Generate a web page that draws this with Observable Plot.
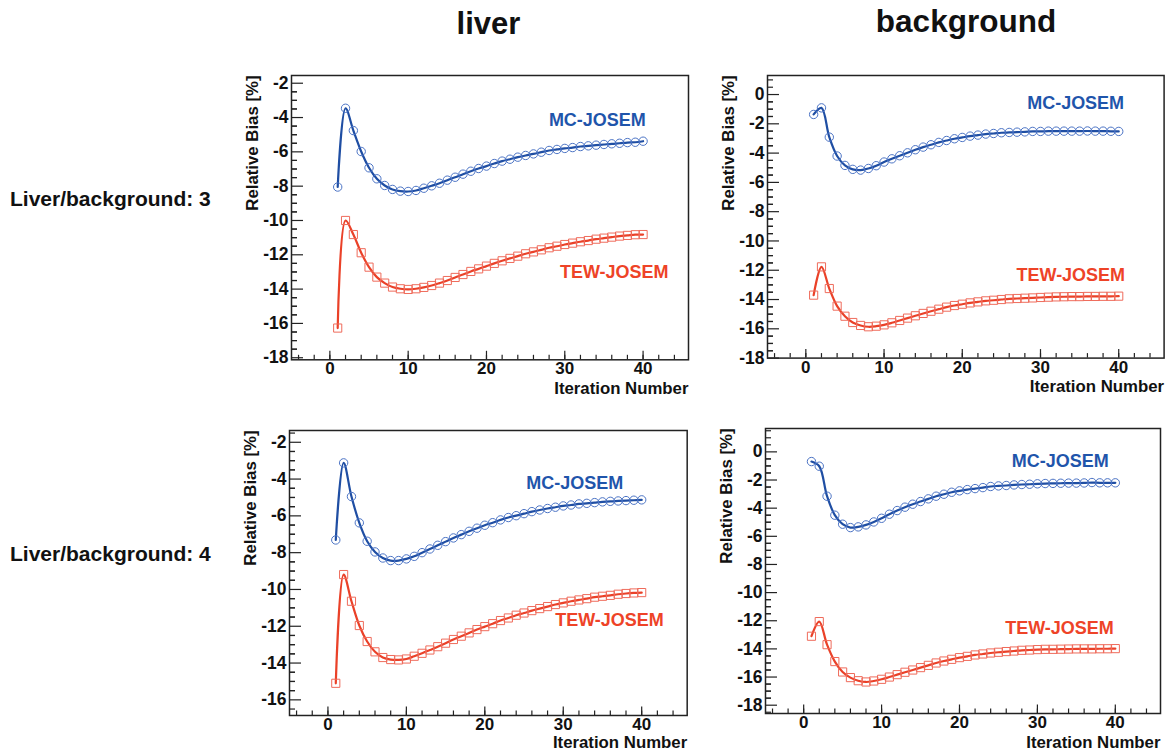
<!DOCTYPE html>
<html><head><meta charset="utf-8">
<script src="https://cdn.jsdelivr.net/npm/d3@7"></script>
<script src="https://cdn.jsdelivr.net/npm/@observablehq/plot@0.6"></script>
<style>
body{margin:0;background:#fff;font-family:"Liberation Sans",Arial,sans-serif;}
#root{position:relative;width:1166px;height:751px;overflow:hidden;background:#fff;}
.t{position:absolute;font-weight:bold;color:#111;line-height:1;white-space:nowrap;}
.panel{position:absolute;}
</style></head><body><div id="root"></div>
<script>
// ---------- data ----------
const iterations = [1,2,3,4,5,6,7,8,9,10,11,12,13,14,15,16,17,18,19,20,21,22,23,24,25,26,27,28,29,30,31,32,33,34,35,36,37,38,39,40];

const mcLiver3 = [-8.05,-3.46,-4.76,-5.98,-6.93,-7.57,-7.96,-8.19,-8.29,-8.31,-8.25,-8.12,-7.98,-7.83,-7.65,-7.48,-7.30,-7.13,-6.97,-6.83,-6.68,-6.54,-6.43,-6.31,-6.21,-6.12,-6.02,-5.92,-5.86,-5.80,-5.75,-5.69,-5.65,-5.61,-5.57,-5.53,-5.50,-5.46,-5.44,-5.38];
const tewLiver3 = [-16.27,-10.00,-10.82,-11.88,-12.72,-13.30,-13.65,-13.88,-13.98,-14.02,-13.98,-13.90,-13.79,-13.65,-13.50,-13.32,-13.15,-12.97,-12.82,-12.66,-12.50,-12.35,-12.21,-12.08,-11.94,-11.83,-11.71,-11.59,-11.50,-11.40,-11.32,-11.24,-11.17,-11.09,-11.03,-10.97,-10.91,-10.87,-10.83,-10.82];
const mcBg3 = [-1.36,-0.91,-2.91,-4.20,-4.84,-5.11,-5.16,-5.05,-4.86,-4.61,-4.39,-4.18,-3.98,-3.77,-3.59,-3.43,-3.27,-3.14,-3.02,-2.93,-2.84,-2.77,-2.70,-2.66,-2.61,-2.59,-2.57,-2.55,-2.52,-2.52,-2.50,-2.50,-2.50,-2.50,-2.50,-2.49,-2.50,-2.50,-2.51,-2.52];
const tewBg3 = [-13.70,-11.77,-13.25,-14.45,-15.14,-15.57,-15.77,-15.86,-15.82,-15.73,-15.59,-15.43,-15.27,-15.11,-14.95,-14.80,-14.66,-14.52,-14.41,-14.32,-14.23,-14.16,-14.09,-14.05,-14.00,-13.95,-13.93,-13.91,-13.89,-13.86,-13.84,-13.82,-13.81,-13.80,-13.80,-13.79,-13.79,-13.78,-13.78,-13.77];
const mcLiver4 = [-7.31,-3.12,-4.95,-6.38,-7.38,-7.96,-8.29,-8.43,-8.43,-8.34,-8.20,-8.00,-7.80,-7.60,-7.40,-7.20,-7.02,-6.84,-6.67,-6.51,-6.37,-6.22,-6.09,-5.99,-5.88,-5.77,-5.68,-5.60,-5.53,-5.46,-5.41,-5.35,-5.32,-5.28,-5.24,-5.21,-5.19,-5.17,-5.15,-5.13];
const tewLiver4 = [-15.10,-9.19,-10.64,-11.96,-12.83,-13.39,-13.70,-13.81,-13.83,-13.78,-13.63,-13.47,-13.29,-13.11,-12.92,-12.72,-12.54,-12.36,-12.18,-12.02,-11.86,-11.69,-11.55,-11.40,-11.28,-11.15,-11.04,-10.93,-10.82,-10.73,-10.64,-10.57,-10.50,-10.42,-10.37,-10.32,-10.26,-10.22,-10.19,-10.17];
const mcBg4 = [-0.69,-1.02,-3.15,-4.50,-5.14,-5.38,-5.33,-5.19,-4.98,-4.72,-4.43,-4.17,-3.93,-3.72,-3.53,-3.34,-3.15,-3.01,-2.87,-2.77,-2.68,-2.61,-2.54,-2.46,-2.42,-2.39,-2.35,-2.32,-2.30,-2.27,-2.25,-2.24,-2.23,-2.22,-2.22,-2.21,-2.18,-2.20,-2.20,-2.20];
const tewBg4 = [-13.10,-12.06,-13.70,-14.90,-15.64,-16.04,-16.26,-16.35,-16.28,-16.16,-16.00,-15.83,-15.66,-15.50,-15.33,-15.17,-15.00,-14.86,-14.74,-14.62,-14.53,-14.43,-14.36,-14.29,-14.24,-14.19,-14.15,-14.10,-14.08,-14.05,-14.03,-14.03,-14.02,-14.01,-14.00,-14.00,-14.00,-13.99,-13.99,-13.98];

const colTitles = ["liver", "background"];
const rowTitles = ["Liver/background: 3", "Liver/background: 4"];
const seriesNames = ["MC-JOSEM", "TEW-JOSEM"];
const xAxisTitle = "Iteration Number";
const yAxisTitle = "Relative Bias [%]";

const xMajorTicks = [0, 10, 20, 30, 40];
const xMinorTicks = [-4,-2,0,2,4,6,8,10,12,14,16,18,20,22,24,26,28,30,32,34,36,38,40,42,44];
const yTicksLiver3 = [-18,-16,-14,-12,-10,-8,-6,-4,-2];
const yTicksBg = [-18,-16,-14,-12,-10,-8,-6,-4,-2,0];
const yTicksLiver4 = [-16,-14,-12,-10,-8,-6,-4,-2];

// ---------- styles ----------
const FONT = '"Liberation Sans", Arial, Helvetica, sans-serif';
const blueLine = "#1f4ea3", blueMark = "#4a72c4", blueText = "#1f55ab";
const redLine = "#ea4128", redMark = "#ef6a5a", redText = "#ee4327";
const axisColor = "#222";

// layout: frame box in page px, domains, label offsets
const panels = [
  {mc: mcLiver3, tew: tewLiver3, yTicks: yTicksLiver3, frame: [290.7, 75, 687.7, 359.3], yDomain: [-18.12, -1.55],
   mcPos: [-42.7, 45], tewPos: [-20, 196.7], xTitleDy: 28.6},
  {mc: mcBg3, tew: tewBg3, yTicks: yTicksBg, frame: [766.7, 74.7, 1163.3, 357.3], yDomain: [-18, 1.3],
   mcPos: [-40, 27.7], tewPos: [-39, 199.7], xTitleDy: 28.6},
  {mc: mcLiver4, tew: tewLiver4, yTicks: yTicksLiver4, frame: [289, 430, 686.7, 715], yDomain: [-16.85, -1.36],
   mcPos: [-64, 52.3], tewPos: [-23.4, 189.3], xTitleDy: 27.2},
  {mc: mcBg4, tew: tewBg4, yTicks: yTicksBg, frame: [765, 428.3, 1160, 713.3], yDomain: [-18.59, 1.66],
   mcPos: [-51.7, 32.7], tewPos: [-46.7, 200], xTitleDy: 28.9}
];
const xDomain = [-4.9, 45.8];

const root = document.getElementById("root");

function addText(txt, left, top, size, center) {
  const d = document.createElement("div");
  d.className = "t";
  d.textContent = txt;
  d.style.fontSize = size + "px";
  d.style.top = top + "px";
  if (center) { d.style.left = (left - 200) + "px"; d.style.width = "400px"; d.style.textAlign = "center"; }
  else d.style.left = left + "px";
  root.appendChild(d);
}

addText(colTitles[0], 488.5, 34 - 0.8465 * 31, 31, true);
addText(colTitles[1], 966, 33 - 0.8465 * 31.5, 31.5, true);
addText(rowTitles[0], 10, 206 - 0.8465 * 21, 21, false);
addText(rowTitles[1], 10, 561 - 0.8465 * 21, 21, false);

const mL = 60, mR = 12, mT = 12, mB = 46;

for (const p of panels) {
  const [L, T, R, B] = p.frame;
  const mcData = iterations.map((it, i) => ({it, v: p.mc[i]}));
  const tewData = iterations.map((it, i) => ({it, v: p.tew[i]}));
  const yMinor = [];
  for (let k = 0; k < p.yTicks.length; k++) {
    const t = p.yTicks[k];
    for (const o of [-1.5, -1, -0.5, 0.5, 1, 1.5]) {
      const v = t + o;
      if (v > p.yDomain[0] && v < p.yDomain[1]) yMinor.push(v);
    }
  }
  const plot = Plot.plot({
    width: R - L + mL + mR,
    height: B - T + mT + mB,
    marginLeft: mL, marginRight: mR, marginTop: mT, marginBottom: mB,
    style: {fontFamily: FONT, background: "transparent", overflow: "visible", color: "#111"},
    x: {domain: xDomain, axis: null},
    y: {domain: p.yDomain, axis: null},
    marks: [
      Plot.axisY(yMinor, {tickSize: -6, text: null, stroke: axisColor, strokeWidth: 1.2, label: null}),
      Plot.axisY(p.yTicks, {tickSize: -12, text: null, stroke: axisColor, strokeWidth: 1.2, label: null}),
      Plot.axisY(p.yTicks, {tickSize: 0, tickPadding: 3, tickFormat: d => String(d), fontSize: 17.5, fontWeight: "bold", fill: "#111", label: null}),
      Plot.axisX(xMinorTicks, {tickSize: -4.5, text: null, stroke: axisColor, strokeWidth: 1.2, label: null}),
      Plot.axisX(xMajorTicks, {tickSize: -8.5, text: null, stroke: axisColor, strokeWidth: 1.2, label: null}),
      Plot.axisX(xMajorTicks, {tickSize: 0, tickPadding: 2.5, tickFormat: d => String(d), fontSize: 17, fontWeight: "bold", fill: "#111", label: null}),
      Plot.frame({stroke: axisColor, strokeWidth: 1.5}),
      Plot.line(mcData, {x: "it", y: "v", curve: "catmull-rom", stroke: blueLine, strokeWidth: 2.2}),
      Plot.dot(mcData, {x: "it", y: "v", r: 4.2, symbol: "circle", stroke: blueMark, strokeWidth: 1, fill: "none"}),
      Plot.line(tewData, {x: "it", y: "v", curve: "catmull-rom", stroke: redLine, strokeWidth: 2.2}),
      Plot.dot(tewData, {x: "it", y: "v", r: 4.6, symbol: "square", stroke: redMark, strokeWidth: 1, fill: "none"}),
      Plot.text([seriesNames[0]], {text: d => d, frameAnchor: "top-right", textAnchor: "end", lineAnchor: "middle",
        dx: p.mcPos[0], dy: p.mcPos[1], fill: blueText, fontSize: 18, fontWeight: "bold"}),
      Plot.text([seriesNames[1]], {text: d => d, frameAnchor: "top-right", textAnchor: "end", lineAnchor: "middle",
        dx: p.tewPos[0], dy: p.tewPos[1], fill: redText, fontSize: 18, fontWeight: "bold"}),
      Plot.text([yAxisTitle], {text: d => d, frameAnchor: "top-left", rotate: -90, textAnchor: "end", lineAnchor: "middle",
        dx: -39, dy: 0, fill: "#111", fontSize: 16.8, fontWeight: "bold"}),
      Plot.text([xAxisTitle], {text: d => d, frameAnchor: "bottom-right", textAnchor: "end", lineAnchor: "middle",
        dx: 0, dy: p.xTitleDy, fill: "#111", fontSize: 16.8, fontWeight: "bold"})
    ]
  });
  plot.classList.add("panel");
  plot.style.left = (L - mL) + "px";
  plot.style.top = (T - mT) + "px";
  root.appendChild(plot);
}
</script>
</body></html>
